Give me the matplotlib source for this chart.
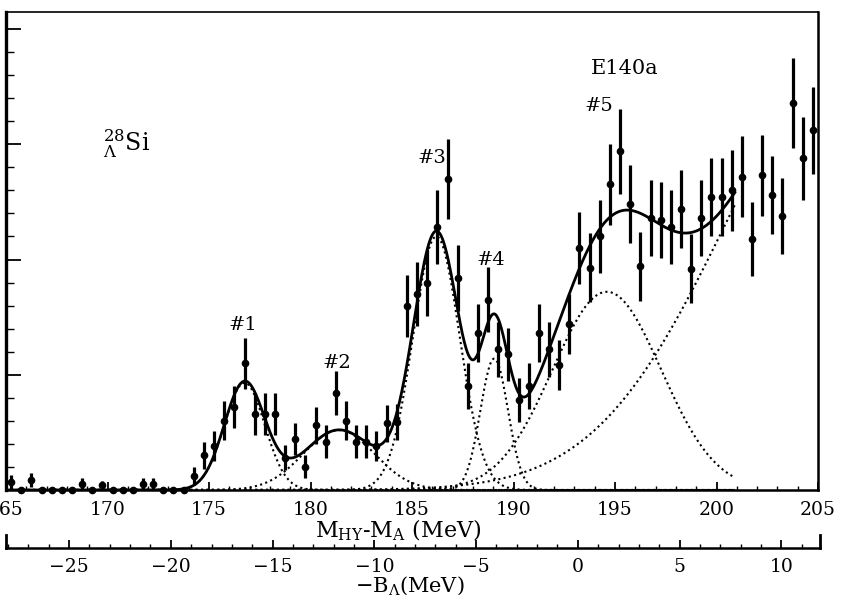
import numpy as np
import matplotlib
matplotlib.use('Agg')
import matplotlib.pyplot as plt
from matplotlib.ticker import MultipleLocator

plt.rcParams['font.family'] = 'DejaVu Serif'
plt.rcParams['mathtext.fontset'] = 'dejavuserif'

# Measured spectrum, 0.5 MeV bins (M_HY - M_A in MeV), counts in arbitrary units
bin_centers = [165.25, 165.75, 166.25, 166.75, 167.25, 167.75, 168.25, 168.75, 169.25, 169.75,
               170.25, 170.75, 171.25, 171.75, 172.25, 172.75, 173.25, 173.75, 174.25, 174.75,
               175.25, 175.75, 176.25, 176.75, 177.25, 177.75, 178.25, 178.75, 179.25, 179.75,
               180.25, 180.75, 181.25, 181.75, 182.25, 182.75, 183.25, 183.75, 184.25, 184.75,
               185.25, 185.75, 186.25, 186.75, 187.25, 187.75, 188.25, 188.75, 189.25, 189.75,
               190.25, 190.75, 191.25, 191.75, 192.25, 192.75, 193.25, 193.75, 194.25, 194.75,
               195.25, 195.75, 196.25, 196.75, 197.25, 197.75, 198.25, 198.75, 199.25, 199.75,
               200.25, 200.75, 201.25, 201.75, 202.25, 202.75, 203.25, 203.75, 204.25, 204.75]
counts = [0.35, 0, 0.45, 0, 0, 0, 0, 0.25, 0, 0.2,
          0, 0, 0, 0.25, 0.25, 0, 0, 0, 0.6, 1.5,
          1.9, 3.0, 3.6, 5.5, 3.3, 3.3, 3.3, 1.4, 2.2, 1.0,
          2.8, 2.1, 4.2, 3.0, 2.1, 2.1, 1.9, 2.9, 2.95, 8.0,
          8.5, 9.0, 11.4, 13.5, 9.2, 4.5, 6.8, 8.26, 6.1, 5.9,
          3.9, 4.5, 6.8, 6.1, 5.43, 7.2, 10.5, 9.65, 11.0, 13.26,
          14.7, 12.4, 9.7, 11.8, 11.7, 11.4, 12.2, 9.6, 11.8, 12.7,
          12.7, 13.0, 13.6, 10.9, 13.65, 12.8, 11.9, 16.8, 14.4, 15.6]
errors = [0.3, 0, 0.3, 0, 0, 0, 0, 0.25, 0, 0.2,
          0, 0, 0, 0.25, 0.25, 0, 0, 0, 0.4, 0.6,
          0.65, 0.85, 0.9, 1.1, 0.9, 0.9, 0.9, 0.55, 0.7, 0.5,
          0.8, 0.7, 0.95, 0.85, 0.7, 0.7, 0.65, 0.8, 0.8, 1.35,
          1.4, 1.45, 1.6, 1.75, 1.45, 1.0, 1.25, 1.4, 1.2, 1.15,
          0.95, 1.0, 1.25, 1.2, 1.1, 1.3, 1.55, 1.5, 1.6, 1.75,
          1.85, 1.7, 1.5, 1.65, 1.65, 1.6, 1.7, 1.5, 1.65, 1.7,
          1.7, 1.75, 1.75, 1.6, 1.75, 1.7, 1.65, 1.95, 1.8, 1.9]

# Gaussian fit components
peak_centers = [176.75, 181.4, 186.2, 189.05, 194.6, 207.0]
peak_sigmas = [1.0, 1.75, 1.15, 0.68, 2.68, 6.5]
peak_heights = [4.65, 2.6, 11.0, 5.7, 8.6, 19.2]
fit_start, fit_end = 165.0, 200.9

peak_labels = ['#1', '#2', '#3', '#4', '#5']
peak_label_x = [176.65, 181.3, 186.0, 188.9, 194.2]
peak_label_y = [7.15, 5.5, 14.4, 10.0, 16.65]

fig = plt.figure(figsize=(8.41, 6.01), dpi=100)
ax = fig.add_axes([6 / 841, 1 - 490 / 601, 812 / 841, 478 / 601])

xf = np.linspace(fit_start, fit_end, 1200)
total = np.zeros_like(xf)
for mu, sg, h in zip(peak_centers, peak_sigmas, peak_heights):
    comp = h * np.exp(-(xf - mu) ** 2 / (2 * sg ** 2))
    total += comp
    ax.plot(xf, comp, color='black', lw=1.5, ls=(0, (1.0, 1.6)))
ax.plot(xf, total, color='black', lw=2.0)

ax.errorbar(bin_centers, counts, yerr=errors, fmt='o', color='black', ms=4.5,
            elinewidth=2.3, capsize=0, clip_on=False, zorder=5)

ax.set_xlim(165, 205)
ax.set_ylim(0, 20.74)
ax.xaxis.set_major_locator(MultipleLocator(5))
ax.xaxis.set_minor_locator(MultipleLocator(1))
ax.yaxis.set_major_locator(MultipleLocator(5))
ax.yaxis.set_minor_locator(MultipleLocator(1))
ax.tick_params(axis='x', which='major', direction='in', length=6, width=1.3,
               labelsize=13.5, pad=8, top=False)
ax.tick_params(axis='x', which='minor', direction='in', length=3, width=1.0, top=False)
ax.tick_params(axis='y', which='major', direction='in', length=11, width=1.3,
               labelleft=False, right=False)
ax.tick_params(axis='y', which='minor', direction='in', length=6, width=1.0, right=False)
ax.spines['left'].set_linewidth(2.4)
ax.spines['bottom'].set_linewidth(1.8)
ax.spines['right'].set_linewidth(1.8)
ax.spines['top'].set_linewidth(1.2)

for lab, lx, ly in zip(peak_labels, peak_label_x, peak_label_y):
    ax.text(lx, ly, lab, ha='center', va='center', fontsize=14)
ax.text(195.45, 18.3, 'E140a', ha='center', va='center', fontsize=15)
ax.text(169.8, 15.0, r'${}^{28}_{\Lambda}\mathrm{Si}$', ha='left', va='center', fontsize=17)

fig.text(398 / 841, 1 - 530 / 601, r'M$_{\rm HY}$-M$_{\rm A}$ (MeV)',
         ha='center', va='center', fontsize=16)

# binding energy scale below
ax2 = fig.add_axes([6 / 841, 1 - 548 / 601, 814 / 841, 13 / 601])
ax2.set_xlim(-28.1, 11.9)
ax2.set_ylim(0, 1)
ax2.xaxis.set_major_locator(MultipleLocator(5))
ax2.xaxis.set_minor_locator(MultipleLocator(1))
ax2.tick_params(axis='x', which='major', direction='in', length=6, width=1.3,
                labelsize=13.5, pad=7)
ax2.tick_params(axis='x', which='minor', direction='in', length=3, width=1.0)
ax2.set_yticks([])
ax2.spines['top'].set_visible(False)
ax2.spines['left'].set_linewidth(2.0)
ax2.spines['right'].set_linewidth(2.0)
ax2.spines['bottom'].set_linewidth(1.8)
ax2.patch.set_alpha(0)

fig.text(410 / 841, 1 - 586 / 601, r'$-$B$_{\Lambda}$(MeV)', ha='center', va='center',
         fontsize=15)

fig.savefig('out.png', dpi=100)
